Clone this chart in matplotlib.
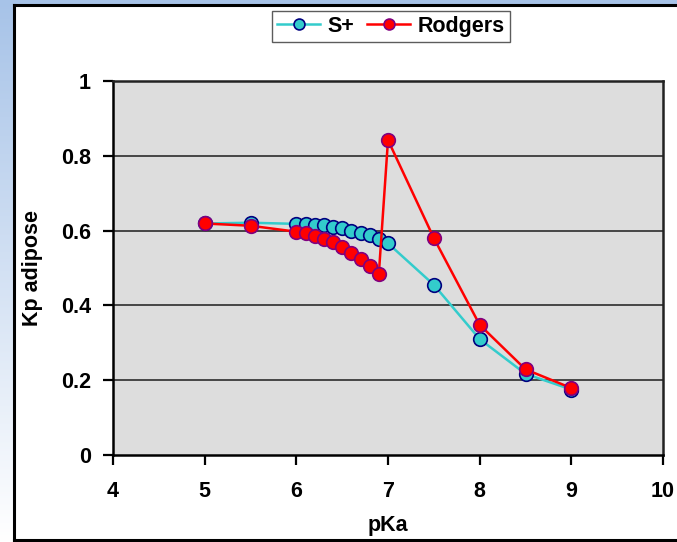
import numpy as np
import matplotlib
matplotlib.use("Agg")
import matplotlib.pyplot as plt
from matplotlib.patches import Rectangle
from matplotlib.lines import Line2D

plt.rcParams['font.family'] = ['Liberation Sans', 'DejaVu Sans']

# pKa values and adipose partition coefficients
pka = [5.0, 5.5, 6.0, 6.1, 6.2, 6.3, 6.4, 6.5, 6.6, 6.7, 6.8, 6.9, 7.0, 7.5, 8.0, 8.5, 9.0]
kp_splus = [0.619, 0.621, 0.618, 0.617, 0.615, 0.614, 0.610, 0.607, 0.600, 0.594,
            0.588, 0.578, 0.566, 0.455, 0.310, 0.217, 0.175]
kp_rodgers = [0.619, 0.613, 0.597, 0.594, 0.586, 0.578, 0.569, 0.557, 0.539, 0.524,
              0.505, 0.484, 0.842, 0.580, 0.348, 0.229, 0.179]

x_ticks = [4, 5, 6, 7, 8, 9, 10]
y_ticks = [0, 0.2, 0.4, 0.6, 0.8, 1]
y_tick_labels = ["0", "0.2", "0.4", "0.6", "0.8", "1"]

W, H = 677, 542
FS = 15.5
fig = plt.figure(figsize=(W / 100, H / 100), dpi=100)
fig.patch.set_facecolor("white")

# light blue slide backdrop: vertical gradient on the left, flat strip on top
bg = fig.add_axes([0, 0, 13 / W, 1])
grad = np.linspace(0, 1, 256).reshape(-1, 1)
top_c = np.array([0.655, 0.765, 0.910])
bot_c = np.array([1.0, 1.0, 1.0])
img = (1 - grad)[..., None] * top_c + grad[..., None] * bot_c
bg.imshow(img, aspect="auto", extent=[0, 1, 0, 1], origin="upper")
bg.set_axis_off()
fig.patches.append(Rectangle((0, 1 - 4 / H), 1, 4 / H, transform=fig.transFigure,
                             facecolor=(0.655, 0.765, 0.910), edgecolor="none", zorder=0))

# black frame of the chart panel
fx0, fy0, fy1 = 14 / W, 2 / H, 1 - 4.5 / H
fig.lines.append(Line2D([fx0, fx0], [fy0, fy1], transform=fig.transFigure, color="black", lw=2.2))
fig.lines.append(Line2D([fx0, 1], [fy1, fy1], transform=fig.transFigure, color="black", lw=2.2))
fig.lines.append(Line2D([fx0, 1], [fy0, fy0], transform=fig.transFigure, color="black", lw=2.2))

ax = fig.add_axes([113 / W, (H - 455) / H, 550 / W, 374 / H])
ax.set_facecolor("#dddddd")

for yv in y_ticks[1:-1]:
    ax.axhline(yv, color="#3a3a3a", lw=1.3, zorder=1)

ax.plot(pka, kp_splus, color="#33cccc", lw=1.8, marker="o", ms=9.8,
        markerfacecolor="#33cccc", markeredgecolor="#000080", markeredgewidth=1.2,
        label="S+", zorder=3)
ax.plot(pka, kp_rodgers, color="#ff0000", lw=1.8, marker="o", ms=9.8,
        markerfacecolor="#ff0000", markeredgecolor="#800080", markeredgewidth=1.2,
        label="Rodgers", zorder=4)

ax.set_xlim(4, 10)
ax.set_ylim(0, 1)
ax.set_xticks(x_ticks)
ax.set_xticklabels([str(t) for t in x_ticks])
ax.set_yticks(y_ticks)
ax.set_yticklabels(y_tick_labels)
ax.tick_params(direction="out", length=7, width=1.6, color="black",
               labelsize=FS)
ax.tick_params(axis="x", pad=12)
ax.tick_params(axis="y", pad=9)
for lab in ax.get_xticklabels() + ax.get_yticklabels():
    lab.set_fontweight("bold")

for side in ["left", "bottom"]:
    ax.spines[side].set_color("black")
    ax.spines[side].set_linewidth(1.8)
for side in ["top", "right"]:
    ax.spines[side].set_color("#222222")
    ax.spines[side].set_linewidth(1.8)

ax.set_xlabel("pKa", fontsize=FS, fontweight="bold", labelpad=9)
ax.set_ylabel("Kp adipose", fontsize=FS, fontweight="bold", labelpad=13)

leg = fig.legend(loc="center", bbox_to_anchor=(391 / W, 1 - 26.5 / H), ncol=2,
                 frameon=True, fancybox=False,
                 prop={"weight": "bold", "size": FS},
                 handlelength=2.0, handletextpad=0.35, columnspacing=0.6,
                 borderpad=0.25, markerscale=0.8)
leg.get_frame().set_edgecolor("#333333")
leg.get_frame().set_linewidth(1.0)

fig.savefig("out.png", dpi=100, facecolor=fig.get_facecolor())
